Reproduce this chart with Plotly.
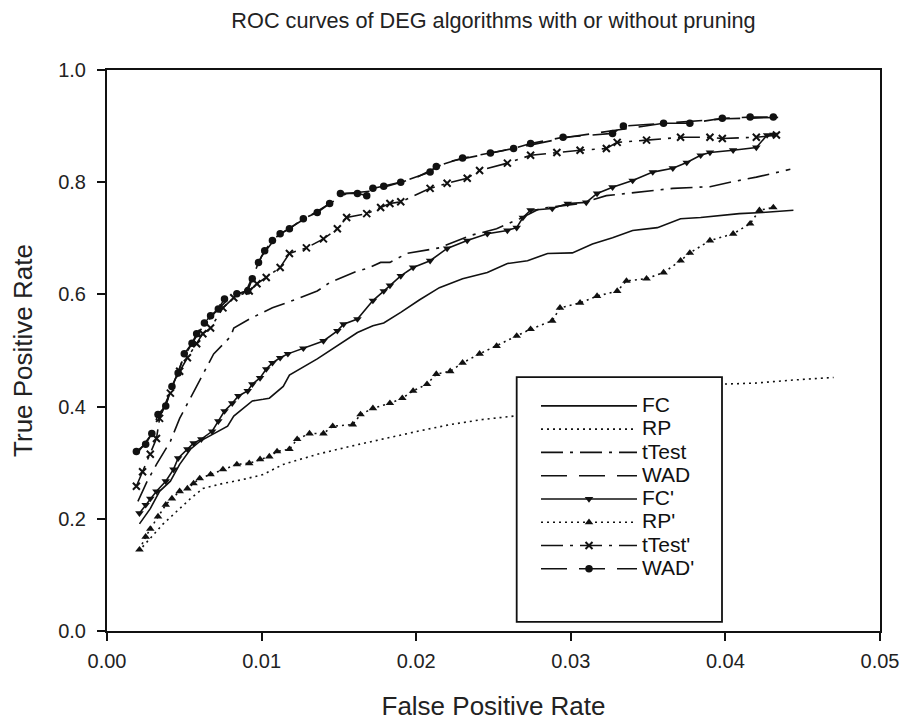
import plotly.graph_objects as go

# ---- data ----
fc_x = [0.0021,0.0028,0.0034,0.0041,0.0047,0.0054,0.0060,0.0069,0.0078,0.0082,0.0088,0.0094,0.0101,0.0105,0.0114,0.0118,0.0136,0.0149,0.0162,0.0172,0.0179,0.0190,0.0202,0.0215,0.0230,0.0246,0.0259,0.0272,0.0285,0.0301,0.0314,0.0327,0.0340,0.0356,0.0371,0.0384,0.0390,0.0409,0.0424,0.0444]
fc_y = [0.191,0.218,0.249,0.267,0.297,0.324,0.338,0.351,0.365,0.383,0.397,0.410,0.413,0.415,0.436,0.456,0.485,0.508,0.532,0.544,0.549,0.568,0.590,0.612,0.628,0.639,0.655,0.660,0.673,0.674,0.690,0.701,0.714,0.719,0.735,0.737,0.739,0.744,0.746,0.750]

rp_x = [0.0023,0.0030,0.0036,0.0045,0.0054,0.0062,0.0075,0.0088,0.0101,0.0114,0.0136,0.0157,0.0179,0.0201,0.0222,0.0243,0.0263,0.0300,0.0350,0.0398,0.0420,0.0442,0.0470]
rp_y = [0.150,0.172,0.190,0.213,0.236,0.254,0.263,0.270,0.279,0.297,0.315,0.329,0.343,0.356,0.368,0.377,0.383,0.400,0.420,0.440,0.442,0.447,0.452]

tt_x = [0.0020,0.0026,0.0032,0.0041,0.0047,0.0054,0.0062,0.0069,0.0080,0.0082,0.0092,0.0107,0.0123,0.0136,0.0144,0.0162,0.0168,0.0177,0.0183,0.0194,0.0215,0.0235,0.0252,0.0267,0.0280,0.0306,0.0323,0.0345,0.0366,0.0390,0.0403,0.0420,0.0431,0.0442]
tt_y = [0.231,0.267,0.297,0.338,0.379,0.415,0.458,0.494,0.525,0.540,0.556,0.576,0.592,0.606,0.621,0.642,0.646,0.657,0.657,0.673,0.683,0.705,0.717,0.735,0.753,0.762,0.776,0.782,0.789,0.792,0.800,0.809,0.816,0.823]

wad_x = [0.0020,0.0030,0.0040,0.0050,0.0060,0.0070,0.0080,0.0090,0.0100,0.0110,0.0125,0.0140,0.0155,0.0170,0.0185,0.0200,0.0220,0.0250,0.0275,0.0300,0.0330,0.0360,0.0400,0.0440]
wad_y = [0.318,0.355,0.420,0.490,0.535,0.568,0.596,0.606,0.668,0.704,0.730,0.755,0.780,0.784,0.796,0.808,0.836,0.853,0.868,0.881,0.893,0.905,0.913,0.916]

fcp_x = [0.0021,0.0025,0.0028,0.0032,0.0038,0.0043,0.0046,0.0052,0.0056,0.0061,0.0068,0.0072,0.0076,0.0081,0.0085,0.0091,0.0094,0.0099,0.0103,0.0107,0.0112,0.0117,0.0127,0.0140,0.0149,0.0153,0.0162,0.0172,0.0179,0.0183,0.0190,0.0198,0.0209,0.0220,0.0233,0.0246,0.0259,0.0265,0.0269,0.0274,0.0288,0.0298,0.0310,0.0317,0.0327,0.0340,0.0353,0.0366,0.0375,0.0384,0.0390,0.0405,0.0420,0.0427,0.0431]
fcp_y = [0.210,0.225,0.236,0.249,0.267,0.288,0.308,0.324,0.335,0.342,0.356,0.374,0.392,0.406,0.419,0.428,0.440,0.451,0.467,0.478,0.487,0.494,0.504,0.517,0.535,0.547,0.556,0.589,0.606,0.616,0.633,0.648,0.660,0.682,0.696,0.708,0.714,0.719,0.737,0.750,0.753,0.762,0.764,0.780,0.791,0.803,0.818,0.825,0.835,0.848,0.853,0.857,0.862,0.884,0.885]

rpp_x = [0.0021,0.0025,0.0028,0.0033,0.0038,0.0042,0.0047,0.0052,0.0056,0.0060,0.0067,0.0075,0.0084,0.0092,0.0099,0.0105,0.0110,0.0118,0.0123,0.0131,0.0140,0.0146,0.0159,0.0164,0.0172,0.0183,0.0191,0.0198,0.0207,0.0213,0.0222,0.0230,0.0241,0.0252,0.0265,0.0274,0.0288,0.0293,0.0306,0.0317,0.0330,0.0336,0.0349,0.0360,0.0371,0.0377,0.0390,0.0405,0.0416,0.0422,0.0431]
rpp_y = [0.145,0.168,0.182,0.204,0.225,0.236,0.249,0.254,0.263,0.272,0.279,0.288,0.297,0.299,0.306,0.311,0.320,0.324,0.342,0.352,0.352,0.365,0.368,0.386,0.397,0.406,0.415,0.428,0.440,0.458,0.463,0.478,0.494,0.508,0.526,0.538,0.553,0.576,0.585,0.597,0.606,0.624,0.628,0.639,0.660,0.674,0.696,0.708,0.726,0.750,0.755]

ttp_x = [0.0019,0.0023,0.0028,0.0032,0.0034,0.0041,0.0047,0.0052,0.0058,0.0062,0.0067,0.0075,0.0082,0.0092,0.0097,0.0103,0.0112,0.0118,0.0129,0.0140,0.0149,0.0155,0.0168,0.0177,0.0183,0.0190,0.0209,0.0220,0.0233,0.0241,0.0259,0.0274,0.0291,0.0306,0.0323,0.0330,0.0349,0.0371,0.0390,0.0398,0.0420,0.0433]
ttp_y = [0.258,0.284,0.315,0.343,0.379,0.424,0.463,0.487,0.512,0.530,0.540,0.576,0.594,0.606,0.619,0.630,0.648,0.673,0.683,0.699,0.717,0.737,0.744,0.755,0.762,0.765,0.789,0.798,0.807,0.821,0.834,0.848,0.853,0.857,0.860,0.871,0.875,0.880,0.880,0.878,0.880,0.884]

wadp_x = [0.0019,0.0025,0.0029,0.0033,0.0038,0.0042,0.0046,0.0050,0.0055,0.0058,0.0063,0.0067,0.0072,0.0076,0.0084,0.0091,0.0094,0.0098,0.0102,0.0107,0.0112,0.0118,0.0127,0.0136,0.0144,0.0151,0.0162,0.0168,0.0172,0.0179,0.0190,0.0209,0.0213,0.0230,0.0248,0.0263,0.0274,0.0295,0.0327,0.0334,0.0360,0.0377,0.0398,0.0416,0.0431]
wadp_y = [0.320,0.333,0.352,0.386,0.401,0.436,0.460,0.494,0.513,0.530,0.549,0.562,0.574,0.592,0.601,0.606,0.628,0.657,0.678,0.696,0.708,0.717,0.735,0.746,0.762,0.780,0.780,0.776,0.789,0.793,0.800,0.818,0.828,0.843,0.852,0.860,0.869,0.880,0.887,0.900,0.905,0.905,0.914,0.916,0.916]

x_ticks = [0.00, 0.01, 0.02, 0.03, 0.04, 0.05]
y_ticks = [0.0, 0.2, 0.4, 0.6, 0.8, 1.0]

FONT = "Liberation Sans, Arial, sans-serif"
INK = "#111111"

series = [
    ("FC", fc_x, fc_y, "solid", None),
    ("RP", rp_x, rp_y, "2px,4px", None),
    ("tTest", tt_x, tt_y, "22px,7px,3px,7px", None),
    ("WAD", wad_x, wad_y, "26px,12px", None),
    ("FC'", fcp_x, fcp_y, "solid", "triangle-down"),
    ("RP'", rpp_x, rpp_y, "2px,4px", "triangle-up"),
    ("tTest'", ttp_x, ttp_y, "22px,7px,3px,7px", "x-thin-open"),
    ("WAD'", wadp_x, wadp_y, "26px,12px", "circle"),
]

fig = go.Figure()
for name, xs, ys, dash, sym in series:
    label = '<span style="font-size:21px">' + name + '</span>'
    if sym is None:
        fig.add_trace(go.Scatter(x=xs, y=ys, name=label, mode="lines",
                                 line=dict(color=INK, width=1.6, dash=dash)))
    else:
        mk = dict(symbol=sym, size=7.5, color=INK)
        if sym == "x-thin-open":
            mk = dict(symbol=sym, size=7, color=INK, line=dict(width=2, color=INK))
        fig.add_trace(go.Scatter(x=xs, y=ys, name=label, mode="lines+markers",
                                 line=dict(color=INK, width=1.6, dash=dash),
                                 marker=mk))

# opaque legend frame
fig.add_shape(type="rect", xref="paper", yref="paper",
              x0=0.530, x1=0.7956, y0=0.0161, y1=0.4526,
              line=dict(color="#111111", width=1.8), fillcolor="white", layer="above")

fig.update_layout(
    width=903, height=721,
    margin=dict(l=107, r=23, t=70, b=90, autoexpand=False),
    paper_bgcolor="white", plot_bgcolor="white",
    font=dict(family=FONT, color="#222222"),
    title=dict(text="ROC curves of DEG algorithms with or without pruning",
               x=0.5, xref="paper", y=1 - 20 / 721, yref="container",
               xanchor="center", yanchor="middle", automargin=False,
               font=dict(family=FONT, size=21.7, color="#222222")),
    showlegend=True,
    legend=dict(x=0.555, y=0.431, xanchor="left", yanchor="top",
                bgcolor="rgba(0,0,0,0)", borderwidth=0,
                font=dict(family=FONT, size=15.6, color="#111111"),
                itemwidth=96, tracegroupgap=0),
)
fig.update_xaxes(range=[0, 0.05], tickvals=x_ticks, tickformat=".2f",
                 showgrid=False, zeroline=False, automargin=False,
                 showline=True, linecolor=INK, linewidth=2, mirror=True,
                 ticks="outside", ticklen=8, tickwidth=1.5, tickcolor=INK,
                 ticklabelstandoff=3,
                 tickfont=dict(family=FONT, size=20, color="#222222"),
                 title=dict(text="False Positive Rate", standoff=28,
                            font=dict(family=FONT, size=26, color="#222222")))
fig.update_yaxes(range=[0, 1.0], tickvals=y_ticks, tickformat=".1f",
                 showgrid=False, zeroline=False, automargin=False,
                 showline=True, linecolor=INK, linewidth=2, mirror=True,
                 ticks="outside", ticklen=8, tickwidth=1.5, tickcolor=INK,
                 ticklabelstandoff=7,
                 tickfont=dict(family=FONT, size=20, color="#222222"),
                 title=dict(text="True Positive Rate", standoff=18,
                            font=dict(family=FONT, size=26, color="#222222")))

fig.write_html("out.html", config={"displayModeBar": False},
               post_script="document.body.style.margin='0';document.body.style.overflow='hidden';")
